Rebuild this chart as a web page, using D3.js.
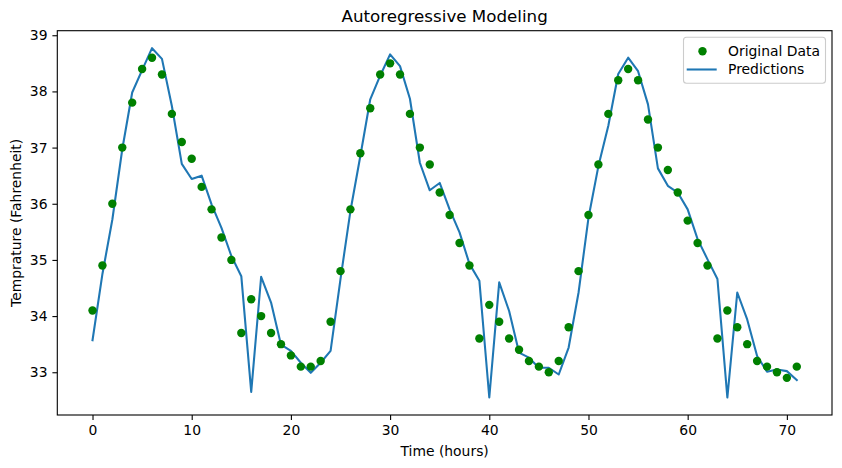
<!DOCTYPE html>
<html><head><meta charset="utf-8">
<script src="https://cdn.jsdelivr.net/npm/d3@7"></script>
<style>
body{margin:0;background:#fff;}
svg{display:block;font-family:"DejaVu Sans",sans-serif;}
</style></head>
<body><svg id="c" width="842" height="468"></svg>
<script>
const hours = d3.range(0, 72);
const originalData = [34.1,34.9,36.0,37.0,37.8,38.4,38.6,38.3,37.6,37.1,36.8,36.3,35.9,35.4,35.0,33.7,34.3,34.0,33.7,33.5,
  33.3,33.1,33.1,33.2,33.9,34.8,35.9,36.9,37.7,38.3,38.5,38.3,37.6,37.0,36.7,36.2,35.8,35.3,34.9,33.6,
  34.2,33.9,33.6,33.4,33.2,33.1,33.0,33.2,33.8,34.8,35.8,36.7,37.6,38.2,38.4,38.2,37.5,37.0,36.6,36.2,
  35.7,35.3,34.9,33.6,34.1,33.8,33.5,33.2,33.1,33.0,32.9,33.1];
const predictions = [33.57,34.75,35.72,36.97,37.98,38.38,38.77,38.58,37.74,36.71,36.44,36.50,35.99,35.57,35.07,34.71,32.65,34.70,34.24,33.49,
  33.38,33.17,32.99,33.17,33.38,34.66,35.87,36.85,37.86,38.28,38.66,38.45,37.87,36.73,36.24,36.37,35.90,35.49,34.93,34.63,
  32.55,34.60,34.09,33.35,33.26,33.08,33.08,32.96,33.44,34.42,35.75,36.67,37.39,38.31,38.60,38.36,37.77,36.63,36.32,36.20,
  35.90,35.37,35.01,34.66,32.55,34.42,33.94,33.29,33.01,33.05,33.02,32.86];
const xTicks = [0,10,20,30,40,50,60,70];
const yTicks = [33,34,35,36,37,38,39];
const titleText = "Autoregressive Modeling";
const xLabel = "Time (hours)";
const yLabel = "Temprature (Fahrenheit)";
const legendLabels = ["Original Data", "Predictions"];

const svg = d3.select("#c");
const L = 57.3, R = 832, T = 30.7, B = 415;

function padded(ext){ const p = (ext[1]-ext[0])*0.05; return [ext[0]-p, ext[1]+p]; }
const x = d3.scaleLinear().domain(padded(d3.extent(hours))).range([L, R]);
const yExt = d3.extent(originalData.concat(predictions));
const y = d3.scaleLinear().domain(padded(yExt)).range([B, T]);

const fs = 13.9;
// axes
const xAxis = svg.append("g").attr("transform", `translate(0,${B})`)
  .call(d3.axisBottom(x).tickValues(xTicks).tickSize(4.9).tickPadding(4.9).tickFormat(d3.format("d")));
const yAxis = svg.append("g").attr("transform", `translate(${L},0)`)
  .call(d3.axisLeft(y).tickValues(yTicks).tickSize(4.9).tickPadding(4.9).tickFormat(d3.format("d")));
[xAxis, yAxis].forEach(a => {
  a.select(".domain").remove();
  a.selectAll("line").attr("stroke", "#000").attr("stroke-width", 1.1);
  a.selectAll("text").attr("font-size", fs).attr("fill", "#000").attr("font-family", "DejaVu Sans");
});

// data
svg.append("path").datum(predictions)
  .attr("fill", "none").attr("stroke", "#1f77b4").attr("stroke-width", 2.08)
  .attr("stroke-linejoin", "round").attr("stroke-linecap", "square")
  .attr("d", d3.line().x((d, i) => x(hours[i])).y(d => y(d)));
svg.append("g").selectAll("circle").data(originalData).join("circle")
  .attr("cx", (d, i) => x(hours[i])).attr("cy", d => y(d)).attr("r", 4.2).attr("fill", "green");

// frame
svg.append("rect").attr("x", L).attr("y", T).attr("width", R - L).attr("height", B - T)
  .attr("fill", "none").attr("stroke", "#000").attr("stroke-width", 1.1);

// title and labels
svg.append("text").attr("x", (L + R) / 2).attr("y", 22.2).attr("text-anchor", "middle")
  .attr("font-size", 16.7).text(titleText);
svg.append("text").attr("x", (L + R) / 2).attr("y", 456).attr("text-anchor", "middle")
  .attr("font-size", fs).text(xLabel);
svg.append("text").attr("transform", `translate(20.6,${(T + B) / 2}) rotate(-90)`).attr("text-anchor", "middle")
  .attr("font-size", fs).text(yLabel);

// legend
const lg = svg.append("g");
lg.append("rect").attr("x", 683.5).attr("y", 37.3).attr("width", 142).attr("height", 46).attr("rx", 3)
  .attr("fill", "#fff").attr("fill-opacity", 0.8).attr("stroke", "#ccc").attr("stroke-width", 1.1);
lg.append("circle").attr("cx", 702.5).attr("cy", 51.3).attr("r", 4.2).attr("fill", "green");
lg.append("line").attr("x1", 686.7).attr("x2", 716.7).attr("y1", 69.5).attr("y2", 69.5)
  .attr("stroke", "#1f77b4").attr("stroke-width", 2.08);
lg.selectAll("text.l").data(legendLabels).join("text").attr("class", "l")
  .attr("x", 728).attr("y", (d, i) => 51.3 + i * 18.2).attr("dy", "0.35em")
  .attr("font-size", fs).text(d => d);
</script></body></html>
